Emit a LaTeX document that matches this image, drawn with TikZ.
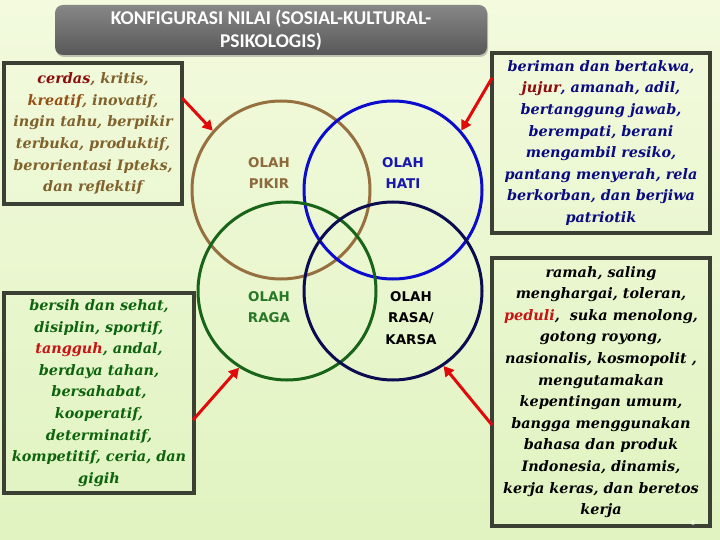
\documentclass[tikz,border=0pt]{standalone}
\usepackage{fontspec}
\usetikzlibrary{arrows.meta,shadows}
\newfontfamily\boxfont{DejaVu Serif}
\newfontfamily\labfont{DejaVu Sans}
\newfontfamily\titlefont{Carlito}
\definecolor{bgtop}{RGB}{243,250,222}
\definecolor{bgbot}{RGB}{224,243,192}
\definecolor{boxline}{RGB}{60,64,52}
\definecolor{cbrown}{RGB}{150,112,62}
\definecolor{cblue}{RGB}{12,12,205}
\definecolor{cgreen}{RGB}{24,100,24}
\definecolor{cnavy}{RGB}{12,12,80}
\definecolor{tbrown}{RGB}{128,98,45}
\definecolor{tdred}{RGB}{140,12,12}
\definecolor{torange}{RGB}{150,80,20}
\definecolor{tgreen}{RGB}{14,100,14}
\definecolor{tred}{RGB}{200,20,20}
\definecolor{tblue}{RGB}{10,10,130}
\definecolor{lbrown}{RGB}{140,106,60}
\definecolor{lblue}{RGB}{24,24,175}
\definecolor{lgreen}{RGB}{40,120,40}
\definecolor{arrred}{RGB}{225,10,10}
\begin{document}
\begin{tikzpicture}[x=1pt,y=-1pt,
  infobox/.style={draw=boxline,line width=3.5pt,fill=none,align=center,inner sep=0pt,
    font=\boxfont\bfseries\itshape\fontsize{14.4}{21.6}\selectfont},
  ring/.style={circle,line width=3pt,minimum size=178pt,inner sep=0pt},
  lab/.style={align=center,font=\labfont\bfseries\fontsize{13.4}{21.5}\selectfont},
  redarrow/.style={draw=arrred,line width=3pt,-{Triangle[length=10pt,width=11pt]}}
]
\shade[top color=bgtop,bottom color=bgbot] (0,0) rectangle (720,540);
\useasboundingbox (0,0) rectangle (720,540);

% title
\node[draw=none,rounded corners=8pt,top color={rgb,255:red,135;green,135;blue,135},
  bottom color={rgb,255:red,88;green,88;blue,88},
  drop shadow={shadow xshift=1pt,shadow yshift=-2pt,opacity=0.45},
  minimum width=432pt,minimum height=50pt,text=white,align=center,
  font=\titlefont\bfseries\fontsize{19.5}{23}\selectfont] (title) at (271,30)
  {KONFIGURASI NILAI (SOSIAL-KULTURAL-\\PSIKOLOGIS)};

% circles
\node[ring,draw=cbrown] (pikir) at (281,190) {};
\node[ring,draw=cblue] (hati) at (393,190) {};
\node[ring,draw=cgreen] (raga) at (287,291) {};
\node[ring,draw=cnavy] (rasa) at (393,291) {};

\node[lab,text=lbrown] (lpikir) at (269,173) {OLAH\\PIKIR};
\node[lab,text=lblue] (lhati) at (403,173) {OLAH\\HATI};
\node[lab,text=lgreen] (lraga) at (269,307) {OLAH\\RAGA};
\node[lab,text=black] (lrasa) at (411,318) {OLAH\\RASA/\\KARSA};

% boxes
\node[infobox,text=tbrown,minimum width=178pt,minimum height=141pt] (b1) at (93,133.5)
{{\color{tdred}cerdas}, kritis,\\{\color{torange}kreatif}, inovatif,\\ingin tahu, berpikir\\terbuka, produktif,\\berorientasi Ipteks,\\dan reflektif};

\node[infobox,text=tgreen,minimum width=190pt,minimum height=200pt] (b2) at (99,393)
{bersih dan sehat,\\disiplin, sportif,\\{\color{tred}tangguh}, andal,\\berdaya tahan,\\bersahabat,\\kooperatif,\\determinatif,\\kompetitif, ceria, dan\\gigih};

\node[infobox,text=tblue,minimum width=218pt,minimum height=180pt] (b3) at (601,143)
{beriman dan bertakwa,\\{\color{tdred}jujur}, amanah, adil,\\bertanggung jawab,\\berempati, berani\\mengambil resiko,\\pantang menyerah, rela\\berkorban, dan berjiwa\\patriotik};

\node[infobox,text=black,minimum width=218pt,minimum height=268pt] (b4) at (601,392)
{ramah, saling\\menghargai, toleran,\\{\color{tred}peduli},\ \ suka menolong,\\gotong royong,\\nasionalis, kosmopolit ,\\mengutamakan\\kepentingan umum,\\bangga menggunakan\\bahasa dan produk\\Indonesia, dinamis,\\kerja keras, dan beretos\\kerja};

% arrows
\coordinate (s1) at (182,98);
\coordinate (s2) at (492,78);
\coordinate (s3) at (193,420);
\coordinate (s4) at (492,425);
\draw[redarrow] (s1) -- (pikir.139);
\draw[redarrow] (s2) -- (hati.41);
\draw[redarrow] (s3) -- (raga.238);
\draw[redarrow] (s4) -- (rasa.304);

\node[text=white,font=\labfont\fontsize{6}{7}\selectfont,inner sep=0pt] (pg) at (693,523) {6};
\end{tikzpicture}
\end{document}
